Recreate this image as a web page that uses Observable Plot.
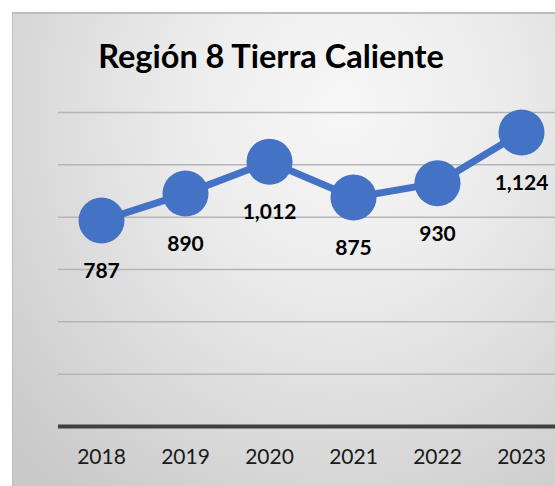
<!DOCTYPE html>
<html>
<head>
<meta charset="utf-8">
<script src="https://cdn.jsdelivr.net/npm/d3@7"></script>
<script src="https://cdn.jsdelivr.net/npm/@observablehq/plot@0.6"></script>
<style>
  html, body { margin: 0; padding: 0; width: 555px; height: 486px; overflow: hidden; background: #ffffff; }
  #frame {
    position: absolute; left: 12px; top: 12px; width: 600px; height: 520px;
    border-left: 1px solid #bdbdbd; border-top: 2px solid #bdbdbd;
    background: radial-gradient(ellipse 75% 95% at 55% 18%, #f7f7f7 0%, #ececec 35%, #dcdcdc 65%, #c9c9c9 100%);
  }
  #title {
    position: absolute; left: 0; top: 40px; width: 542px; text-align: center;
    font-family: Lato, "Open Sans", sans-serif; font-weight: 700; font-size: 32.5px; color: #000;
    line-height: 1; white-space: nowrap;
  }
  #chart { position: absolute; left: 0; top: 0; width: 575px; }
  #chart svg { max-width: none !important; }
</style>
</head>
<body>
<div id="frame"></div>
<div id="title">Región 8 Tierra Caliente</div>
<div id="chart"></div>
<script>
const years = ["2018", "2019", "2020", "2021", "2022", "2023"];
const values = [787, 890, 1012, 875, 930, 1124];
const valueLabels = ["787", "890", "1,012", "875", "930", "1,124"];
const gridTicks = [200, 400, 600, 800, 1000, 1200];

const data = years.map((year, i) => ({ year, value: values[i], label: valueLabels[i] }));

const blue = "#4472C4";
const font = "Lato, 'Open Sans', sans-serif";

const chart = Plot.plot({
  width: 575,
  height: 486,
  marginLeft: 58,
  marginRight: 10.6,
  marginTop: 112,
  marginBottom: 60,
  style: { background: "transparent", fontFamily: font, overflow: "visible", maxWidth: "none" },
  x: { type: "point", domain: years, padding: 0.5, axis: null, label: null },
  y: { domain: [0, 1200], axis: null },
  marks: [
    Plot.ruleY(gridTicks, { stroke: "#b5b5b5", strokeWidth: 1.5 }),
    Plot.ruleY([0], { stroke: "#404040", strokeWidth: 4 }),
    Plot.axisX({ tickSize: 0, tickPadding: 23, fontSize: 21, fill: "#1a1a1a", fontFamily: font, label: null }),
    Plot.line(data, { x: "year", y: "value", stroke: blue, strokeWidth: 7 }),
    Plot.dot(data, { x: "year", y: "value", r: 23, fill: blue, stroke: null }),
    Plot.text(data, { x: "year", y: "value", text: "label", dy: 51, fontSize: 21, fontWeight: "bold", fill: "#000", fontFamily: font })
  ]
});
document.getElementById("chart").appendChild(chart);
</script>
</body>
</html>
